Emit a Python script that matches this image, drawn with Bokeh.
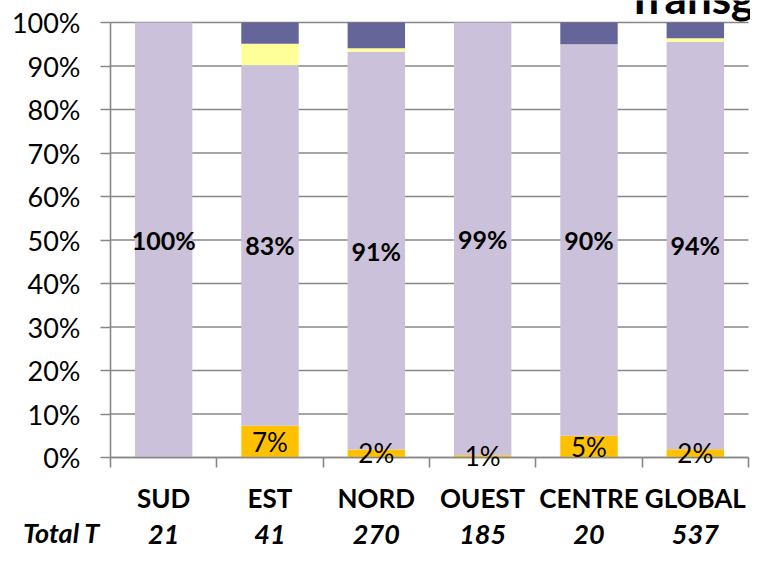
from bokeh.plotting import figure
from bokeh.models import (ColumnDataSource, Range1d, FixedTicker, LinearAxis,
                          PrintfTickFormatter, LabelSet, Label)
from bokeh.core.properties import value
from bokeh.embed import file_html
from bokeh.resources import INLINE

categories = ["SUD", "EST", "NORD", "OUEST", "CENTRE", "GLOBAL"]
totals = [21, 41, 270, 185, 20, 537]
orange_pct = [0, 7.3, 1.85, 0.54, 5.0, 1.9]
lavender_pct = [100, 82.9, 91.4, 99.46, 90.0, 93.7]
yellow_pct = [0, 4.9, 0.85, 0, 0, 0.8]
navy_pct = [0, 4.9, 5.9, 0, 5.0, 3.6]
y_ticks = list(range(0, 101, 10))
title_text = "Transg"
row_title = "Total T"

FONT = "Lato"
GRID = "#878787"
colors = ["#FFC000", "#CBC1DA", "#FFFF99", "#65659A"]

# layout (pixels inside the canvas)
W, H = 750, 551
LEFT, RIGHT, TOP, BOTTOM = 110, 748, 22, 457

n = len(categories)
centers = [i + 0.5 for i in range(n)]
bounds = list(range(n + 1))

pxx = (RIGHT - LEFT) / n
pxy = (BOTTOM - TOP) / 100.0
x_range = Range1d(-LEFT / pxx, n + (W - RIGHT) / pxx)
y_range = Range1d(-(H - BOTTOM) / pxy, 100 + TOP / pxy)

src = ColumnDataSource(dict(x=centers, orange=orange_pct, lavender=lavender_pct,
                            yellow=yellow_pct, navy=navy_pct))

p = figure(width=W, height=H, x_range=x_range, y_range=y_range,
           output_backend="svg", toolbar_location=None,
           x_axis_location=None, y_axis_location=None,
           min_border=0, min_border_left=0, min_border_right=0,
           min_border_top=0, min_border_bottom=0)
p.outline_line_color = None
p.xgrid.visible = False
p.ygrid.visible = False

# horizontal grid lines
p.segment(x0=[0] * len(y_ticks), x1=[n] * len(y_ticks), y0=y_ticks, y1=y_ticks,
          line_color=GRID, line_width=1.6)

p.vbar_stack(["orange", "lavender", "yellow", "navy"], x="x", width=0.54,
             color=colors, line_color=None, source=src)

# y axis
ya = LinearAxis(fixed_location=0, bounds=(0, 100), ticker=FixedTicker(ticks=y_ticks),
                formatter=PrintfTickFormatter(format="%d%%"))
ya.axis_line_color = GRID
ya.axis_line_width = 1.6
ya.major_tick_line_color = GRID
ya.major_tick_line_width = 1.6
ya.major_tick_out = 10
ya.major_tick_in = 0
ya.minor_tick_line_color = None
ya.major_label_standoff = 20
ya.major_label_text_font = FONT
ya.major_label_text_font_size = "27px"
ya.major_label_text_color = "black"
p.add_layout(ya, "left")

# category axis
ax1 = LinearAxis(fixed_location=0, bounds=(0, n),
                 ticker=FixedTicker(ticks=centers, minor_ticks=bounds))
ax1.major_label_overrides = {c: cat for c, cat in zip(centers, categories)}
ax1.axis_line_color = GRID
ax1.axis_line_width = 1.6
ax1.major_tick_line_color = None
ax1.major_tick_out = 10
ax1.major_tick_in = 0
ax1.minor_tick_line_color = GRID
ax1.minor_tick_line_width = 1.6
ax1.minor_tick_out = 10
ax1.minor_tick_in = 0
ax1.major_label_standoff = 14
ax1.major_label_text_font = FONT
ax1.major_label_text_font_size = "26px"
ax1.major_label_text_font_style = "bold"
ax1.major_label_text_color = "black"
p.add_layout(ax1, "below")

# totals row
ax2 = LinearAxis(fixed_location=0, bounds=(0, n), ticker=FixedTicker(ticks=centers))
ax2.major_label_overrides = {c: str(t) for c, t in zip(centers, totals)}
ax2.axis_line_color = None
ax2.major_tick_line_color = None
ax2.minor_tick_line_color = None
ax2.major_tick_out = 0
ax2.major_tick_in = 0
ax2.major_label_standoff = 67
ax2.major_label_text_font = FONT
ax2.major_label_text_font_size = "27px"
ax2.major_label_text_font_style = "bold italic"
ax2.major_label_text_color = "black"
p.add_layout(ax2, "below")

# value labels
o_x, o_y, o_t = [], [], []
l_x, l_y, l_t = [], [], []
for i in range(n):
    if orange_pct[i] > 0:
        o_x.append(centers[i]); o_y.append(orange_pct[i] / 2); o_t.append(f"{round(orange_pct[i])}%")
    l_x.append(centers[i]); l_y.append(orange_pct[i] + lavender_pct[i] / 2); l_t.append(f"{round(lavender_pct[i])}%")

p.add_layout(LabelSet(x="x", y="y", text="t", source=ColumnDataSource(dict(x=o_x, y=o_y, t=o_t)),
                      text_align="center", text_baseline="middle", text_font=value(FONT),
                      text_font_size=value("26px"), text_color="black"))
p.add_layout(LabelSet(x="x", y="y", text="t", source=ColumnDataSource(dict(x=l_x, y=l_y, t=l_t)),
                      text_align="center", text_baseline="middle", text_font=value(FONT),
                      text_font_size=value("25px"), text_font_style="bold", text_color="black"))

p.add_layout(Label(x=(61 - LEFT) / pxx, y=-(532 - BOTTOM) / pxy, text=row_title,
                   text_align="center", text_baseline="middle",
                   text_font=FONT, text_font_size="27px", text_font_style="bold italic",
                   text_color="black"))
p.add_layout(Label(x=(626 - LEFT) / pxx, y=100 + (TOP + 4) / pxy, text=title_text,
                   text_align="left", text_baseline="alphabetic",
                   text_font=FONT, text_font_size="44px", text_font_style="bold",
                   text_color="black"))

open("out.html", "w").write(file_html(p, INLINE))
